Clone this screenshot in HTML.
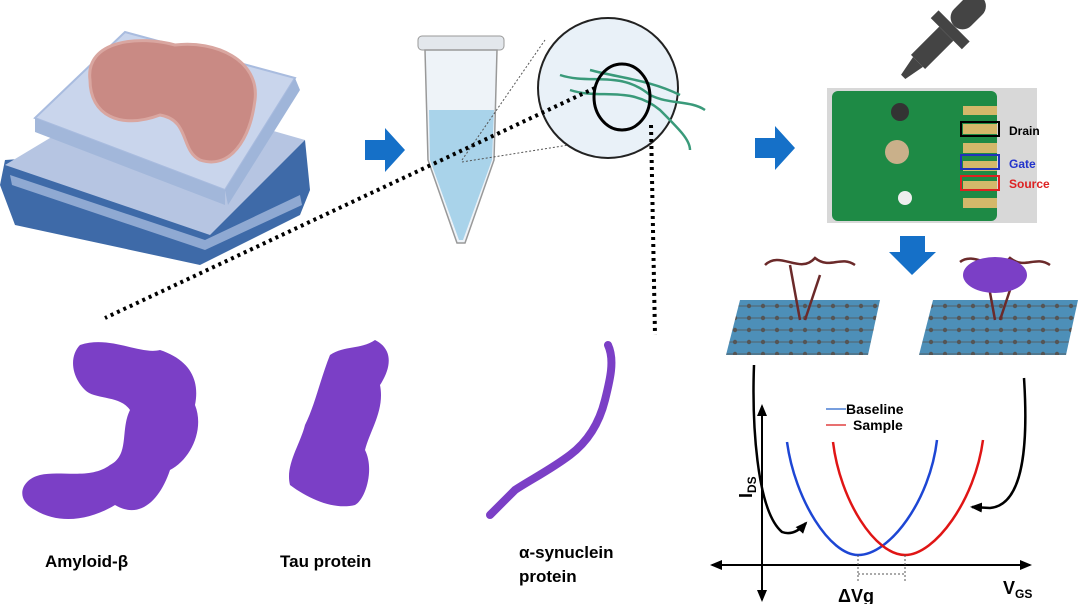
<!DOCTYPE html>
<html><head><meta charset="utf-8"><style>
html,body{margin:0;padding:0;background:#fff}
svg{display:block}
text{font-family:"Liberation Sans",Arial,sans-serif;font-weight:bold}
</style></head><body>
<svg width="1080" height="604" viewBox="0 0 1080 604" xmlns="http://www.w3.org/2000/svg">
<defs>
<marker id="ah" markerUnits="userSpaceOnUse" markerWidth="16" markerHeight="14" refX="14" refY="7" orient="auto"><path d="M0,0 L16,7 L0,14 z" fill="#000"/></marker>
<marker id="ah2" markerUnits="userSpaceOnUse" markerWidth="12" markerHeight="10" refX="10" refY="5" orient="auto"><path d="M0,0 L12,5 L0,10 z" fill="#000"/></marker>
<pattern id="dots" width="14" height="12" patternUnits="userSpaceOnUse"><rect width="14" height="12" fill="#4d8fb8"/><circle cx="7" cy="6" r="2.2" fill="#555"/><path d="M0,6 H14" stroke="#555" stroke-width="0.8"/></pattern>
</defs>
<!-- scanner -->
<path d="M5,160 L0,185 L15,225 L200,265 L300,215 L310,190 L305,140 Z" fill="#3e6aa8"/>
<path d="M5,165 L130,90 L305,140 L210,235 Z" fill="#b6c5e2"/>
<path d="M10,175 L205,240 L300,195 L302,205 L205,250 L12,185 Z" fill="#8fa9d2"/>
<path d="M35,118 L125,32 L295,78 L225,190 Z" fill="#c9d5ec" stroke="#a9bcdf" stroke-width="2"/>
<path d="M35,118 L225,190 L225,205 L35,132 Z" fill="#a2b7da"/>
<path d="M295,78 L300,90 L228,205 L225,190 Z" fill="#9fb5d9"/>
<path d="M90,80 C85,40 140,35 175,45 C215,40 260,60 255,100 C250,140 230,170 200,160 C180,150 190,120 160,115 C120,130 90,115 90,80 Z" fill="#c98a84" stroke="#d9a6a0" stroke-width="3"/>
<!-- arrows -->
<path d="M365,140 H385 V128 L405,150 L385,172 V160 H365 Z" fill="#1570c8"/>
<path d="M755,138 H775 V126 L795,148 L775,170 V158 H755 Z" fill="#1570c8"/>
<path d="M900,236 H925 V252 H936 L912,275 L889,252 H900 Z" fill="#1570c8"/>
<!-- tube -->
<rect x="418" y="36" width="86" height="14" rx="4" fill="#e3e7ec" stroke="#999"/>
<path d="M425,50 H497 L494,160 L465,243 L457,243 L428,160 Z" fill="#eef3f8" stroke="#999" stroke-width="1.5"/>
<path d="M429,110 H494 L492,160 L463,240 L459,240 L430,160 Z" fill="#a9d3ea"/>
<!-- magnifier -->
<path d="M462,160 L545,40 M462,162 L600,140" stroke="#555" stroke-dasharray="2,2"/>
<circle cx="608" cy="88" r="70" fill="#e9f1f8" stroke="#222" stroke-width="2"/>
<path d="M560,75 C590,85 620,70 650,95 C670,105 690,100 705,110 M570,90 C600,100 630,85 660,110 C680,130 690,140 690,150 M590,70 C620,78 650,80 680,95" stroke="#3a9a7a" stroke-width="2.5" fill="none"/>
<ellipse cx="622" cy="97" rx="28" ry="33" fill="none" stroke="#000" stroke-width="3"/>
<path d="M595,88 L105,318" stroke="#000" stroke-width="4" stroke-dasharray="3,4"/>
<path d="M651,125 L655,335" stroke="#000" stroke-width="4" stroke-dasharray="3,4"/>
<!-- proteins -->
<path d="M80,345 C110,335 140,355 160,350 C190,360 200,380 195,405 C205,430 190,460 170,470 C160,500 140,520 115,505 C90,520 60,525 35,510 C15,500 20,480 40,475 C60,470 90,480 110,465 C130,455 120,430 130,410 C120,395 95,400 85,390 C70,375 70,355 80,345 Z" fill="#7b3fc6"/>
<path d="M330,355 C345,345 360,350 375,340 C395,350 390,370 380,385 C385,410 370,430 365,450 C375,470 365,500 355,505 C335,510 310,500 290,485 C285,465 300,445 305,425 C315,405 320,380 330,355 Z" fill="#7b3fc6"/>
<path d="M608,345 C615,360 610,380 605,400 C600,420 590,440 570,455 C550,470 530,480 515,490 C505,500 495,510 490,515" stroke="#7b3fc6" stroke-width="8" fill="none" stroke-linecap="round"/>
<text x="45" y="567" font-size="17">Amyloid-β</text>
<text x="280" y="567" font-size="17">Tau protein</text>
<text x="519" y="558" font-size="17">α-synuclein</text>
<text x="519" y="582" font-size="17">protein</text>
<!-- dropper -->
<g transform="rotate(45 935 45)" fill="#444">
<rect x="923" y="-22" width="24" height="40" rx="12"/>
<rect x="913" y="18" width="44" height="11"/>
<rect x="925" y="29" width="20" height="40"/>
<path d="M928,69 H942 L938,90 H932 Z"/>
</g>
<!-- PCB -->
<rect x="827" y="88" width="210" height="135" fill="#d8d8d8"/>
<rect x="832" y="91" width="165" height="130" rx="6" fill="#1e8a45"/>
<circle cx="900" cy="112" r="9" fill="#333"/>
<circle cx="905" cy="198" r="7" fill="#eee"/>
<circle cx="897" cy="152" r="12" fill="#c9b08a"/>
<g fill="#d4b86a"><rect x="963" y="106" width="34" height="9"/><rect x="963" y="124" width="34" height="10"/><rect x="963" y="143" width="34" height="10"/><rect x="963" y="161" width="34" height="10"/><rect x="963" y="181" width="34" height="10"/><rect x="963" y="198" width="34" height="10"/></g>
<rect x="961" y="122" width="38" height="14" fill="none" stroke="#000" stroke-width="2"/>
<rect x="961" y="155" width="38" height="14" fill="none" stroke="#2233bb" stroke-width="2"/>
<rect x="961" y="176" width="38" height="14" fill="none" stroke="#dd2222" stroke-width="2"/>
<text x="1009" y="135" font-size="12">Drain</text>
<text x="1009" y="168" font-size="12" fill="#2233cc">Gate</text>
<text x="1009" y="188" font-size="12" fill="#dd2222">Source</text>
<!-- graphene sheets -->
<path d="M740,300 H880 L868,355 H726 Z" fill="url(#dots)"/>
<path d="M933,300 H1078 L1066,355 H919 Z" fill="url(#dots)"/>
<path d="M765,265 C780,250 800,275 815,258 C830,270 840,255 855,265 M790,265 L800,320 M820,275 L805,320" stroke="#6b2a2a" stroke-width="2.5" fill="none"/>
<path d="M960,262 C975,250 995,275 1010,258 C1025,270 1035,255 1050,265 M985,265 L995,320 M1015,275 L1000,320" stroke="#6b2a2a" stroke-width="2.5" fill="none"/>
<ellipse cx="995" cy="275" rx="32" ry="18" fill="#7b3fc6"/>
<!-- graph -->
<path d="M762,565 V406" stroke="#000" stroke-width="2" marker-end="url(#ah2)"/>
<path d="M762,565 V600" stroke="#000" stroke-width="2" marker-end="url(#ah2)"/>
<path d="M762,565 H1030" stroke="#000" stroke-width="2" marker-end="url(#ah2)"/>
<path d="M762,565 H712" stroke="#000" stroke-width="2" marker-end="url(#ah2)"/>
<path d="M787,442 C795,500 830,555 858,555 C890,555 930,500 937,440" stroke="#1d46d4" stroke-width="2.5" fill="none"/>
<path d="M833,442 C840,500 875,555 905,555 C935,555 975,500 983,440" stroke="#e01515" stroke-width="2.5" fill="none"/>
<path d="M858,555 V582 M905,555 V582 M858,574 H905" stroke="#555" stroke-dasharray="2,2"/>
<path d="M826,409 H846" stroke="#4a7fd4" stroke-width="1.5"/>
<path d="M826,425 H846" stroke="#e04040" stroke-width="1.5"/>
<text x="846" y="414" font-size="14">Baseline</text>
<text x="853" y="430" font-size="14">Sample</text>
<path d="M754,365 C752,420 756,510 782,532 C790,535 798,532 806,523" stroke="#000" stroke-width="2.5" fill="none" marker-end="url(#ah2)"/>
<path d="M1024,378 C1028,440 1025,505 990,508 L972,507" stroke="#000" stroke-width="2.5" fill="none" marker-end="url(#ah2)"/>
<text transform="translate(752,498) rotate(-90)" font-size="18">I<tspan font-size="12" dy="4">DS</tspan></text>
<text x="1003" y="594" font-size="18">V<tspan font-size="12" dy="4">GS</tspan></text>
<text x="838" y="602" font-size="18">ΔVg</text>
</svg>
</body></html>
